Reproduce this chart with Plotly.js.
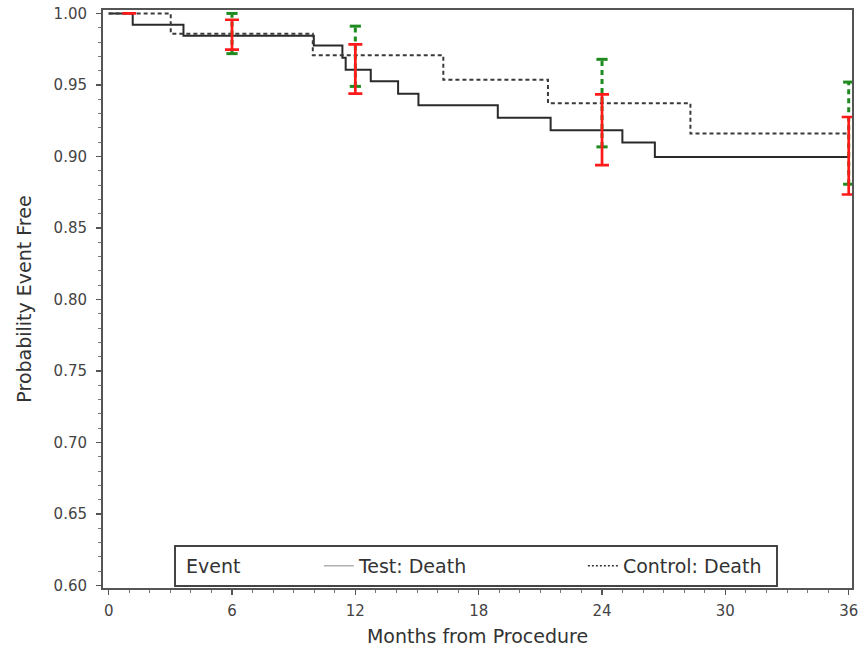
<!DOCTYPE html>
<html>
<head>
<meta charset="utf-8">
<script src="https://cdn.plot.ly/plotly-3.0.1.min.js"></script>
<style>html,body{margin:0;padding:0;background:#fff;}#chart{width:859px;height:649px;}</style>
</head>
<body>
<div id="chart"></div>
<script>
// Kaplan-Meier step curves (months, probability event free)
var testTimes = [0, 1.17, 3.64, 9.98, 11.37, 11.53, 12.75, 14.08, 15.07, 18.93, 21.5, 24.99, 26.57, 36];
var testSurv  = [1.0, 0.9921, 0.9844, 0.9775, 0.969, 0.9607, 0.9525, 0.9439, 0.9358, 0.9271, 0.9183, 0.9097, 0.8997, 0.8997];
var ctrlTimes = [0, 3.02, 9.93, 16.28, 21.37, 28.3, 36];
var ctrlSurv  = [1.0, 0.9858, 0.9707, 0.9537, 0.9372, 0.916, 0.916];

// Confidence intervals
var testCIMonths = [1, 6, 12, 24, 36];
var testCIUpper  = [1.0, 0.9956, 0.9784, 0.9434, 0.9276];
var testCILower  = [1.0, 0.9747, 0.9439, 0.8939, 0.8734];
var ctrlCIMonths = [6, 12, 24, 36];
var ctrlCIUpper  = [1.0, 0.9911, 0.9679, 0.952];
var ctrlCILower  = [0.9719, 0.949, 0.9067, 0.8806];

// Axis ticks
var xTicks = [0, 6, 12, 18, 24, 30, 36];
var yTicks = [0.60, 0.65, 0.70, 0.75, 0.80, 0.85, 0.90, 0.95, 1.00];

var legendNames = ['Test: Death', 'Control: Death'];
var legendTitle = 'Event';

var FONT = 'DejaVu Sans, Liberation Sans, Arial, sans-serif';

// green dashed vertical CI segments built from the data arrays
var gx = [], gy = [];
for (var i = 0; i < ctrlCIMonths.length; i++) {
  gx.push(ctrlCIMonths[i], ctrlCIMonths[i], null);
  gy.push(ctrlCILower[i], ctrlCIUpper[i], null);
}
var capX = ctrlCIMonths.concat(ctrlCIMonths);
var capY = ctrlCILower.concat(ctrlCIUpper);

var tMid = [], tUp = [], tDn = [];
for (var j = 0; j < testCIMonths.length; j++) {
  var m = (testCIUpper[j] + testCILower[j]) / 2;
  tMid.push(m);
  tUp.push(testCIUpper[j] - m);
  tDn.push(m - testCILower[j]);
}

var pad = '';
for (var k = 0; k < 22; k++) pad += '\u00A0';

var traces = [
  { x: testTimes, y: testSurv, mode: 'lines', line: {shape: 'hv', color: '#2a2a2a', width: 2}, showlegend: false, hoverinfo: 'skip' },
  { x: ctrlTimes, y: ctrlSurv, mode: 'lines', line: {shape: 'hv', color: '#3a3a3a', width: 2, dash: '4px,3px'}, showlegend: false, hoverinfo: 'skip' },
  { x: gx, y: gy, mode: 'lines', line: {color: '#1f8a1f', width: 3, dash: '5px,4px'}, showlegend: false, hoverinfo: 'skip' },
  { x: capX, y: capY, mode: 'markers', marker: {symbol: 'line-ew', size: 8, line: {color: '#1f8a1f', width: 3}}, showlegend: false, hoverinfo: 'skip' },
  { x: testCIMonths, y: tMid, mode: 'markers', marker: {size: 1, color: 'rgba(0,0,0,0)'},
    error_y: {type: 'data', symmetric: false, array: tUp, arrayminus: tDn, color: '#ff1a1a', thickness: 2.7, width: 7},
    showlegend: false, hoverinfo: 'skip' },
  { x: [null], y: [null], mode: 'lines', name: legendNames[0], legendwidth: 219, line: {color: '#b0b0b0', width: 1.5} },
  { x: [null], y: [null], mode: 'lines', name: legendNames[1], legendwidth: 148, line: {color: '#333', width: 1.5, dash: '2px,2px'} }
];

var layout = {
  width: 859, height: 649,
  margin: {l: 103, r: 7, t: 10, b: 61},
  paper_bgcolor: '#fff', plot_bgcolor: '#fff',
  font: {family: FONT, color: '#333'},
  xaxis: {
    range: [-0.275, 36.16], tickvals: xTicks, ticktext: xTicks.map(String),
    showgrid: false, zeroline: false,
    showline: true, linecolor: '#555', linewidth: 2, mirror: true,
    ticks: 'outside', ticklen: 5, tickwidth: 1.2, tickcolor: '#555',
    minor: {dtick: 1, tick0: 0, ticks: 'outside', ticklen: 3, tickcolor: '#777', tickwidth: 1},
    tickfont: {family: FONT, size: 15, color: '#444'},
    ticklabelstandoff: 3,
    title: {text: 'Months from Procedure', font: {family: FONT, size: 19, color: '#333'}, standoff: 11}
  },
  yaxis: {
    range: [0.5983, 1.0024], tickvals: yTicks, ticktext: yTicks.map(function(v){return v.toFixed(2);}),
    showgrid: false, zeroline: false,
    showline: true, linecolor: '#555', linewidth: 2, mirror: true,
    ticks: 'outside', ticklen: 5, tickwidth: 1.2, tickcolor: '#555',
    minor: {dtick: 0.01, tick0: 0.6, ticks: 'outside', ticklen: 3, tickcolor: '#777', tickwidth: 1},
    tickfont: {family: FONT, size: 15, color: '#444'},
    ticklabelstandoff: 6,
    title: {text: 'Probability Event Free', font: {family: FONT, size: 19, color: '#333'}, standoff: 17}
  },
  legend: {
    orientation: 'h', x: 0.498, xanchor: 'center', y: 0.002, yanchor: 'bottom',
    bgcolor: '#fff', bordercolor: '#444', borderwidth: 2,
    font: {family: FONT, size: 19, color: '#333'},
    title: {text: pad, side: 'left', font: {family: FONT, size: 19, color: '#333'}},
    entrywidthmode: 'pixels'
  },
  annotations: [{
    text: legendTitle, xref: 'paper', yref: 'paper', x: 0.108, y: 0.038,
    xanchor: 'left', yanchor: 'middle', showarrow: false,
    font: {family: FONT, size: 19, color: '#333'}
  }],
  showlegend: true
};

Plotly.newPlot('chart', traces, layout, {staticPlot: true, displayModeBar: false});
</script>
</body>
</html>
